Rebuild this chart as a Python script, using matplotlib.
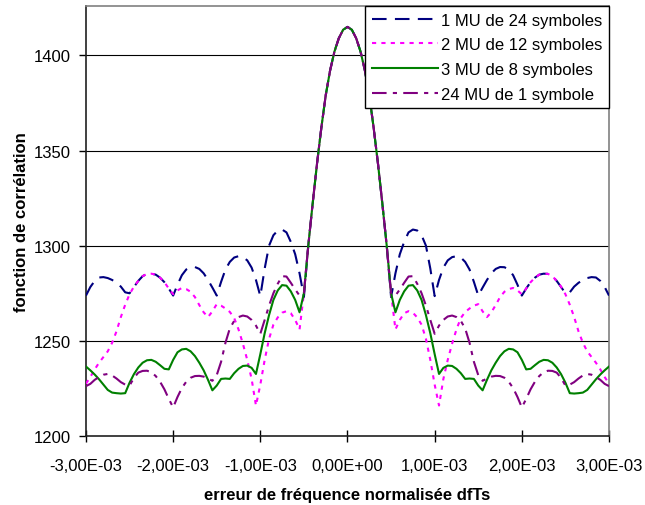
import matplotlib
matplotlib.use("Agg")
import matplotlib.pyplot as plt
import numpy as np

plt.rcParams['font.family'] = ['Liberation Sans', 'DejaVu Sans']

# x values (normalised frequency error, in units of 1e-3), step 0.05
x_milli = [round(-3.0 + 0.05 * i, 2) for i in range(121)]

series_blue = [
    1273.8, 1278.3, 1281.5, 1283.3, 1283.5, 1283.0, 1282.0, 1280.5, 1278.5, 1275.5,
    1275.0, 1278.3, 1281.5, 1284.0, 1285.2, 1285.3, 1284.8, 1283.2, 1280.8, 1277.5,
    1273.8, 1279.5, 1284.5, 1287.5, 1288.7, 1288.8, 1287.8, 1285.5, 1282.0, 1278.0,
    1273.8, 1281.0, 1287.5, 1291.5, 1293.8, 1294.5, 1294.0, 1292.3, 1288.5, 1282.0,
    1273.5, 1288.0, 1300.0, 1305.5, 1308.0, 1308.5, 1307.0, 1302.0, 1295.5, 1285.5,
    1273.0,
    1300.0, 1322.0, 1343.0, 1362.0, 1379.0, 1392.0, 1402.0, 1409.0, 1413.5,
    1415.0,
    1413.5, 1409.0, 1402.0, 1392.0, 1379.0, 1362.0, 1343.0, 1322.0, 1300.0,
    1273.0,
    1285.5, 1295.5, 1302.0, 1307.0, 1308.5, 1308.0, 1305.5, 1300.0, 1288.0, 1273.5,
    1282.0, 1288.5, 1292.3, 1294.0, 1294.5, 1293.8, 1291.5, 1287.5, 1281.0, 1273.8,
    1278.0, 1282.0, 1285.5, 1287.8, 1288.8, 1288.7, 1287.5, 1284.5, 1279.5, 1273.8,
    1277.5, 1280.8, 1283.2, 1284.8, 1285.3, 1285.2, 1284.0, 1281.5, 1278.3, 1275.0,
    1275.5, 1278.5, 1280.5, 1282.0, 1283.0, 1283.5, 1283.3, 1281.5, 1278.3, 1273.8,
]

series_magenta = [
    1227.5, 1231.0, 1235.0, 1238.5, 1241.5, 1244.5, 1249.0, 1255.0, 1262.5, 1269.0,
    1274.5, 1278.5, 1281.5, 1284.0, 1285.2, 1285.3, 1284.8, 1283.2, 1280.8, 1277.5,
    1274.5, 1276.5, 1277.8, 1277.2, 1275.8, 1273.0, 1268.8, 1265.0, 1262.5, 1265.5,
    1269.3, 1268.5, 1267.0, 1265.2, 1262.0, 1256.0, 1248.5, 1240.0, 1230.0, 1216.0,
    1227.0, 1240.0, 1251.0, 1258.5, 1262.3, 1264.8, 1265.6, 1264.5, 1261.0, 1256.0,
    1275.0,
    1300.0, 1322.0, 1343.0, 1362.0, 1379.0, 1392.0, 1402.0, 1409.0, 1413.5,
    1415.0,
    1413.5, 1409.0, 1402.0, 1392.0, 1379.0, 1362.0, 1343.0, 1322.0, 1300.0,
    1275.0,
    1256.0, 1261.0, 1264.5, 1265.6, 1264.8, 1262.3, 1258.5, 1251.0, 1240.0, 1227.0,
    1216.0, 1230.0, 1240.0, 1248.5, 1256.0, 1262.0, 1265.2, 1267.0, 1268.5, 1269.3,
    1265.5, 1262.5, 1265.0, 1268.8, 1273.0, 1275.8, 1277.2, 1277.8, 1276.5, 1274.5,
    1277.5, 1280.8, 1283.2, 1284.8, 1285.3, 1285.2, 1284.0, 1281.5, 1278.5, 1274.5,
    1269.0, 1262.5, 1255.0, 1249.0, 1244.5, 1241.5, 1238.5, 1235.0, 1231.0, 1227.5,
]

series_green = [
    1236.5, 1234.5, 1232.3, 1229.8, 1227.0, 1224.2, 1222.8, 1222.5, 1222.3, 1222.5,
    1228.0, 1232.5, 1236.0, 1238.5, 1239.8, 1240.0, 1239.0, 1237.2, 1235.3, 1235.0,
    1240.0, 1244.0, 1245.5, 1245.8, 1244.5, 1242.0, 1238.5, 1234.5, 1229.5, 1224.0,
    1226.5, 1230.0, 1230.2, 1230.0, 1233.0, 1235.3, 1236.8, 1237.0, 1235.8, 1232.6,
    1243.0, 1254.0, 1263.5, 1271.5, 1276.5, 1279.3, 1279.0, 1276.0, 1271.5, 1265.0,
    1275.0,
    1300.0, 1322.0, 1343.0, 1362.0, 1379.0, 1392.0, 1402.0, 1409.0, 1413.5,
    1415.0,
    1413.5, 1409.0, 1402.0, 1392.0, 1379.0, 1362.0, 1343.0, 1322.0, 1300.0,
    1275.0,
    1265.0, 1271.5, 1276.0, 1279.0, 1279.3, 1276.5, 1271.5, 1263.5, 1254.0, 1243.0,
    1232.6, 1235.8, 1237.0, 1236.8, 1235.3, 1233.0, 1230.0, 1230.2, 1230.0, 1226.5,
    1224.0, 1229.5, 1234.5, 1238.5, 1242.0, 1244.5, 1245.8, 1245.5, 1244.0, 1240.0,
    1235.0, 1235.3, 1237.2, 1239.0, 1240.0, 1239.8, 1238.5, 1236.0, 1232.5, 1228.0,
    1222.5, 1222.3, 1222.5, 1222.8, 1224.2, 1227.0, 1229.8, 1232.3, 1234.5, 1236.5,
]

series_purple = [
    1226.2, 1227.4, 1229.5, 1231.0, 1232.2, 1232.6, 1231.8, 1230.2, 1228.3, 1227.0,
    1226.5, 1230.5, 1233.3, 1234.2, 1234.3, 1233.5, 1231.5, 1228.5, 1224.5, 1219.5,
    1215.0, 1220.5, 1225.2, 1228.5, 1230.6, 1231.5, 1231.6, 1231.2, 1230.2, 1229.0,
    1232.0, 1239.0, 1249.0, 1256.5, 1260.5, 1262.5, 1263.3, 1262.8, 1261.0, 1258.0,
    1253.7, 1261.0, 1268.5, 1275.0, 1280.0, 1284.0, 1283.8, 1280.5, 1277.0, 1273.8,
    1275.0,
    1300.0, 1322.0, 1343.0, 1362.0, 1379.0, 1392.0, 1402.0, 1409.0, 1413.5,
    1415.0,
    1413.5, 1409.0, 1402.0, 1392.0, 1379.0, 1362.0, 1343.0, 1322.0, 1300.0,
    1275.0,
    1273.8, 1277.0, 1280.5, 1283.8, 1284.0, 1280.0, 1275.0, 1268.5, 1261.0, 1253.7,
    1258.0, 1261.0, 1262.8, 1263.3, 1262.5, 1260.5, 1256.5, 1249.0, 1239.0, 1232.0,
    1229.0, 1230.2, 1231.2, 1231.6, 1231.5, 1230.6, 1228.5, 1225.2, 1220.5, 1215.0,
    1219.5, 1224.5, 1228.5, 1231.5, 1233.5, 1234.3, 1234.2, 1233.3, 1230.5, 1226.5,
    1227.0, 1228.3, 1230.2, 1231.8, 1232.6, 1232.2, 1231.0, 1229.5, 1227.4, 1226.2,
]

labels = ["1 MU de 24 symboles", "2 MU de 12 symboles", "3 MU de 8 symboles", "24 MU de 1 symbole"]
x_ticks = [-3e-3, -2e-3, -1e-3, 0.0, 1e-3, 2e-3, 3e-3]
x_tick_labels = ["-3,00E-03", "-2,00E-03", "-1,00E-03", "0,00E+00", "1,00E-03", "2,00E-03", "3,00E-03"]
y_ticks = [1200, 1250, 1300, 1350, 1400]

x = np.array(x_milli) * 1e-3

fig = plt.figure(figsize=(6.45, 5.06), dpi=100)
ax = fig.add_axes([0.1333, 0.1364, 0.8109, 0.8498])

for yv in y_ticks[1:]:
    ax.axhline(yv, color='black', lw=0.8, zorder=1)

ax.plot(x, series_blue, color='#000080', lw=1.5, dashes=(7, 4), label=labels[0], zorder=3)
ax.plot(x, series_magenta, color='#FF00FF', lw=1.5, dashes=(2, 2.5), label=labels[1], zorder=3)
ax.plot(x, series_green, color='#008000', lw=1.5, label=labels[2], zorder=4)
ax.plot(x, series_purple, color='#800080', lw=1.5, dashes=(7, 3, 2, 3), label=labels[3], zorder=5)

ax.set_xlim(-3e-3, 3e-3)
ax.set_ylim(1200, 1426)
ax.set_xticks(x_ticks)
ax.set_xticklabels(x_tick_labels, fontsize=12)
ax.set_yticks(y_ticks)
ax.set_yticklabels([str(v) for v in y_ticks], fontsize=12)
ax.tick_params(axis='x', direction='inout', length=8, width=1, pad=12)
ax.tick_params(axis='y', direction='out', length=5, width=1, pad=6)

for s in ['top', 'right']:
    ax.spines[s].set_color('#808080')
    ax.spines[s].set_linewidth(1.2)
for s in ['left', 'bottom']:
    ax.spines[s].set_color('#202020')
    ax.spines[s].set_linewidth(1.2)

ax.set_xlabel("erreur de fréquence normalisée dfTs", fontsize=12, fontweight='bold', labelpad=10)
ax.set_ylabel("fonction de corrélation", fontsize=12, fontweight='bold', labelpad=3)

leg = ax.legend(loc='upper right', bbox_to_anchor=(1.0, 1.0), borderaxespad=0, fontsize=12,
                frameon=True, fancybox=False, edgecolor='black', framealpha=1,
                handlelength=4.0, handletextpad=0.15, labelspacing=0.58, borderpad=0.4)
leg.get_frame().set_linewidth(1.0)
leg.set_zorder(10)

fig.savefig("out.png", dpi=100)
